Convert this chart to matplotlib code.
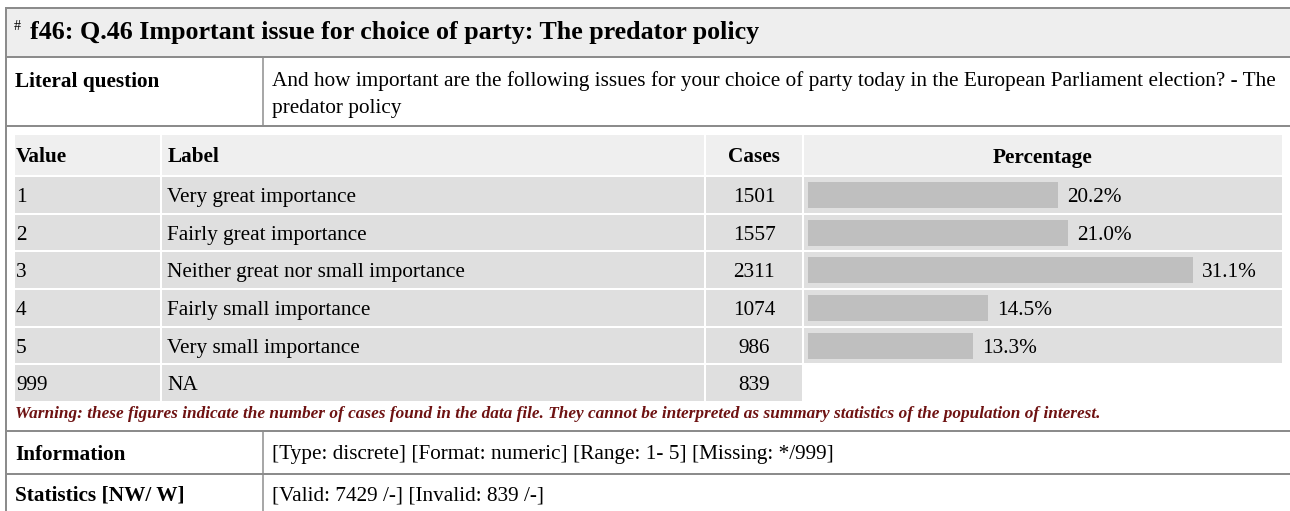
import matplotlib
matplotlib.use("Agg")
import matplotlib.pyplot as plt
from matplotlib.patches import Rectangle

plt.rcParams['font.family'] = ['Liberation Serif', 'DejaVu Serif']

title = "f46: Q.46 Important issue for choice of party: The predator policy"
question = ["And how important are the following issues for your choice of party today in the European Parliament election? - The",
            "predator policy"]
values = ["1", "2", "3", "4", "5", "999"]
labels = ["Very great importance", "Fairly great importance",
          "Neither great nor small importance", "Fairly small importance",
          "Very small importance", "NA"]
cases = [1501, 1557, 2311, 1074, 986, 839]
percent = [20.2, 21.0, 31.1, 14.5, 13.3]
headers = ["Value", "Label", "Cases", "Percentage"]
warning = ("Warning: these figures indicate the number of cases found in the data file. "
           "They cannot be interpreted as summary statistics of the population of interest.")
info = "[Type: discrete] [Format: numeric] [Range: 1- 5] [Missing: */999]"
stats = "[Valid: 7429 /-] [Invalid: 839 /-]"

W, H = 1290, 511
fig = plt.figure(figsize=(W / 100, H / 100), dpi=100)
ax = fig.add_axes([0, 0, 1, 1])
ax.set_xlim(0, W)
ax.set_ylim(H, 0)
ax.axis('off')

px = 0.72  # points per pixel
body = 21.3 * px
dy = 2.5   # nudge: va='center' sits a bit high for serif text
line_col = '#8c8c8c'

# outer frame and title band
ax.add_patch(Rectangle((6, 8), W - 6, 49, facecolor='#eeeeee', edgecolor='none'))
ax.plot([6, 6], [8, H], color=line_col, lw=2 * px)
for y in [8, 57, 126, 431, 474]:
    ax.plot([6, W], [y, y], color=line_col, lw=2 * px)
ax.plot([263, 263], [57, 126], color=line_col, lw=1.5 * px)
ax.plot([263, 263], [431, H], color=line_col, lw=1.5 * px)

ax.text(14, 27, "#", fontsize=14 * px, va='center', ha='left')
ax.text(30, 32, title, fontsize=26 * px, fontweight='bold', va='center', ha='left')

ax.text(15, 79 + dy, "Literal question", fontsize=body, fontweight='bold', va='center')
ax.text(272, 79 + dy, question[0], fontsize=body, va='center')
ax.text(272, 106 + dy, question[1], fontsize=body, va='center')

# frequency table
cols = [(15, 160), (162, 704), (706, 802), (804, 1282)]
head_top, head_bot = 135, 175
row_top, pitch = 177, 37.67

for i, (x0, x1) in enumerate(cols):
    ax.add_patch(Rectangle((x0, head_top), x1 - x0, head_bot - head_top,
                           facecolor='#efefef', edgecolor='none'))
hy = (head_top + head_bot) / 2 + dy
ax.text(16, hy, headers[0], fontsize=body, fontweight='bold', va='center')
ax.text(168, hy, headers[1], fontsize=body, fontweight='bold', va='center')
ax.text(754, hy, headers[2], fontsize=body, fontweight='bold', va='center', ha='center')
ax.text(1043, hy, headers[3], fontsize=body, fontweight='bold', va='center', ha='center')

for r in range(len(values)):
    y0 = row_top + r * pitch
    ncols = 4 if r < len(percent) else 3
    for (x0, x1) in cols[:ncols]:
        ax.add_patch(Rectangle((x0, y0), x1 - x0, pitch - 2,
                               facecolor='#dfdfdf', edgecolor='none'))
    yc = y0 + (pitch - 2) / 2 + dy
    ax.text(16, yc, values[r], fontsize=body, va='center')
    ax.text(167, yc, labels[r], fontsize=body, va='center')
    ax.text(754, yc, str(cases[r]), fontsize=body, va='center', ha='center')

# bar column: its own axes, 1% = 12.38 px
bx0, bx1 = 808, 1282
by0 = row_top
by1 = row_top + len(percent) * pitch
bax = fig.add_axes([bx0 / W, 1 - by1 / H, (bx1 - bx0) / W, (by1 - by0) / H])
bax.set_xlim(0, (bx1 - bx0) / 12.38)
bax.set_ylim(len(percent) - 0.5 + 1 / pitch, -0.5 + 1 / pitch)
bax.patch.set_alpha(0)
bax.axis('off')
ypos = list(range(len(percent)))
bax.barh(ypos, percent, height=26 / pitch, color='#bfbfbf', left=0)
for yv, p in zip(ypos, percent):
    bax.text(p + 0.75, yv + dy / pitch, f"{p:.1f}%", fontsize=body, va='center', ha='left')

ax.text(15, 413 + 1, warning, fontsize=17.3 * px, fontweight='bold', style='italic',
        color='#6e1212', va='center')

ax.text(15, 452 + dy, "Information", fontsize=body, fontweight='bold', va='center')
ax.text(272, 452 + dy, info, fontsize=body, va='center')
ax.text(15, 493 + dy, "Statistics [NW/ W]", fontsize=body, fontweight='bold', va='center')
ax.text(272, 493 + dy, stats, fontsize=body, va='center')

fig.savefig("out.png", dpi=100)
